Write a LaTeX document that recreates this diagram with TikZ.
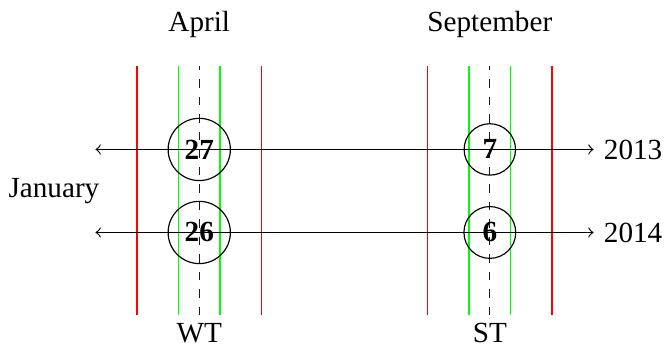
\documentclass[tikz,border=0pt]{standalone}
\usepackage{fontspec}
\setmainfont{Liberation Serif}
\usetikzlibrary{positioning}
\definecolor{outer-color}{HTML}{FF0000}
\definecolor{inner-color}{HTML}{00FF00}
\definecolor{mid-color}{HTML}{1A1A1A}
\tikzset{
  outer-line/.style={draw=outer-color, line width=0.45pt},
  inner-line/.style={draw=inner-color, line width=0.45pt},
  mid-line/.style={dashed, draw=mid-color},
  day-node/.style={draw, circle, font=\bfseries},
  year-line/.style={<->}
}
\begin{document}
\begin{tikzpicture}
  \useasboundingbox (-2.40,-1.88) rectangle (5.61,2.30);

  % winter time (left) and summer time (right) bands
  \draw[outer-line] (-0.75,-1.5) -- (-0.75,1.5);
  \draw[outer-line] (0.75,-1.5) -- (0.75,1.5);
  \draw[inner-line] (-0.25,-1.5) -- (-0.25,1.5);
  \draw[inner-line] (0.25,-1.5) -- (0.25,1.5);
  \coordinate (wt-bottom) at (0,-1.5);
  \coordinate (wt-top)    at (0,1.5);
  \draw[mid-line] (wt-bottom) -- (wt-top);

  \draw[outer-line] (2.75,-1.5) -- (2.75,1.5);
  \draw[outer-line] (4.25,-1.5) -- (4.25,1.5);
  \draw[inner-line] (3.25,-1.5) -- (3.25,1.5);
  \draw[inner-line] (3.75,-1.5) -- (3.75,1.5);
  \coordinate (st-bottom) at (3.5,-1.5);
  \coordinate (st-top)    at (3.5,1.5);
  \draw[mid-line] (st-bottom) -- (st-top);

  \node (april)     at (0,2)      {April};
  \node (september) at (3.5,2)    {September};
  \node (january)   at (-1.75,0)  {January};
  \node[below=0pt of wt-bottom, inner sep=2.5pt] (wt) {WT};
  \node[below=0pt of st-bottom, inner sep=2.5pt] (st) {ST};

  % years
  \coordinate (start2013) at (-1.25,0.5);
  \coordinate (start2014) at (-1.25,-0.5);
  \node[right] (y2013) at (4.75,0.5)  {2013};
  \node[right] (y2014) at (4.75,-0.5) {2014};
  \draw[year-line] (start2013) -- (y2013.west);
  \draw[year-line] (start2014) -- (y2014.west);

  \node[day-node] (apr27) at (0,0.5)    {27};
  \node[day-node] (apr26) at (0,-0.5)   {26};
  \node[day-node] (sep7)  at (3.5,0.5)  {7};
  \node[day-node] (sep6)  at (3.5,-0.5) {6};
\end{tikzpicture}
\end{document}
